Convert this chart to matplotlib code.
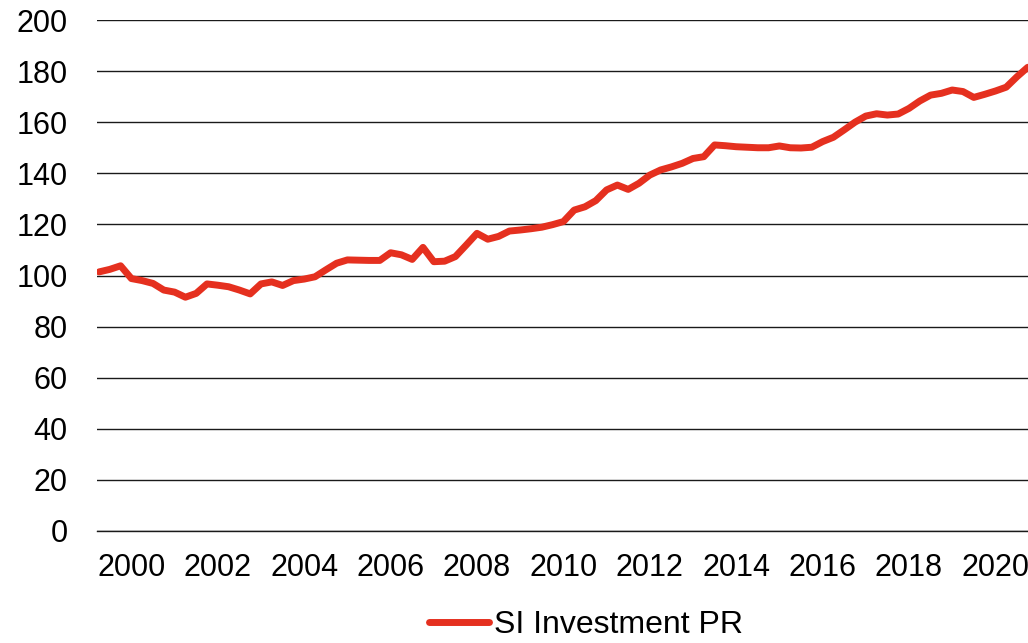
import matplotlib
matplotlib.use("Agg")
from matplotlib import pyplot as plt
import numpy as np

plt.rcParams['font.family'] = ['Liberation Sans', 'DejaVu Sans']

# quarterly index, 1999 Q2 .. 2020 Q4
values = [101.4, 102.4, 103.8, 98.8, 98.0, 96.9, 94.3, 93.5, 91.5, 93.0,
          96.7, 96.2, 95.6, 94.3, 92.8, 96.7, 97.5, 96.1, 98.0, 98.6,
          99.5, 102.2, 104.8, 106.1, 106.0, 105.9, 105.9, 108.9, 108.1, 106.3,
          111.0, 105.4, 105.6, 107.4, 111.9, 116.5, 114.2, 115.3, 117.4, 117.8,
          118.3, 118.9, 119.9, 121.1, 125.6, 126.9, 129.3, 133.5, 135.4, 133.7,
          136.1, 139.3, 141.3, 142.5, 143.9, 145.8, 146.5, 151.1, 150.8, 150.4,
          150.2, 150.0, 150.0, 150.7, 150.0, 149.9, 150.2, 152.4, 154.1, 157.0,
          160.0, 162.4, 163.3, 162.8, 163.2, 165.4, 168.3, 170.6, 171.3, 172.6,
          172.0, 169.7, 170.9, 172.2, 173.7, 177.8, 181.5]
series_name = "SI Investment PR"
start_year, start_q = 1999, 2

years = []
quarters = []
y, q = start_year, start_q
for v in values:
    years.append(y)
    quarters.append(q)
    q += 1
    if q > 4:
        q = 1
        y += 1

x = np.arange(len(values))
tick_pos = [i for i in x if quarters[i] == 1 and years[i] % 2 == 0]
tick_txt = [str(years[i]) for i in tick_pos]

fig = plt.figure(figsize=(10.28, 6.43), dpi=100)
ax = fig.add_axes([97/1028, 1 - 531/643, 1 - 97/1028, (531 - 20)/643])

ax.plot(x, values, color="#E5301F", lw=5.0, solid_capstyle="round",
        solid_joinstyle="round", label=series_name)

ax.set_ylim(0, 200)
ax.set_yticks(range(0, 201, 20))
ax.set_xlim(-0.185, len(values) - 1 + 0.02)
ax.set_xticks(tick_pos, tick_txt)

ax.grid(True, axis="y", color="#1a1a1a", lw=1.0)
ax.set_axisbelow(True)
for s in ["top", "right", "left"]:
    ax.spines[s].set_visible(False)
ax.spines["bottom"].set_color("#1a1a1a")
ax.spines["bottom"].set_linewidth(1.0)

ax.tick_params(axis="y", length=0, pad=21, labelsize=22)
ax.tick_params(axis="x", length=0, pad=16, labelsize=22)

fig.legend(loc="center", bbox_to_anchor=(586/1028, 1 - 625/643),
           frameon=False, fontsize=23, handlelength=1.9, handletextpad=0.15,
           borderpad=0.1)

plt.savefig("out.png", dpi=100)
